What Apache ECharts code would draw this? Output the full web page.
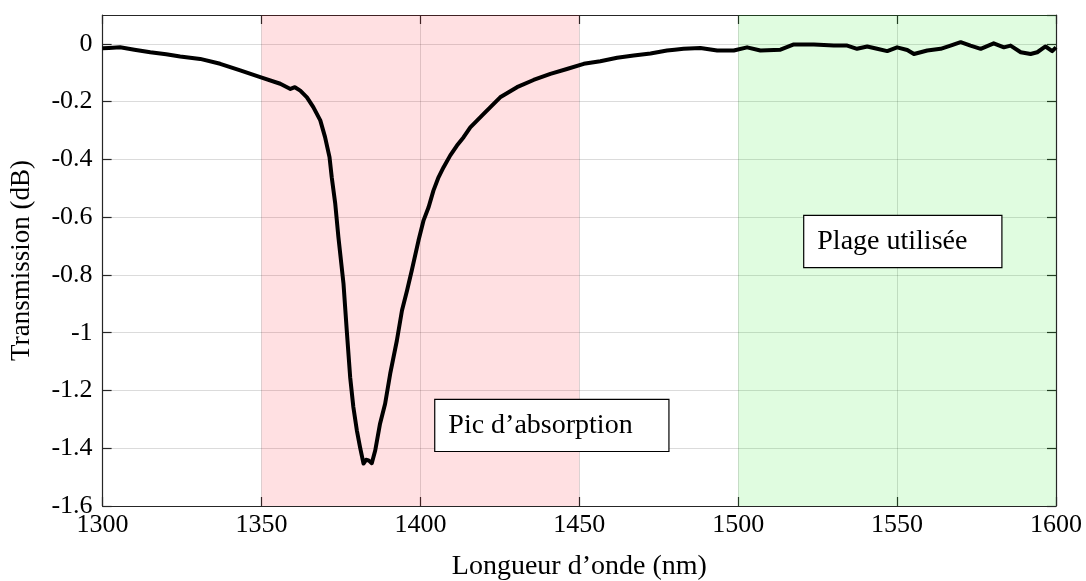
<!DOCTYPE html>
<html>
<head>
<meta charset="utf-8">
<script src="https://cdn.jsdelivr.net/npm/echarts@6/dist/echarts.min.js"></script>
<style>
  html, body { margin: 0; padding: 0; background: #fff; }
  #chart { width: 1086px; height: 581px; }
</style>
</head>
<body>
<div id="chart"></div>
<script>
// Wavelength (nm) and measured transmission (dB)
const wavelength = [
  1300, 1302, 1305.5, 1310, 1315, 1320, 1324.4, 1330.7, 1337, 1343.3,
  1349.6, 1355.9, 1359.1, 1360.5, 1362.2, 1364.3, 1366.3, 1368.5, 1370, 1371.4,
  1372.1, 1373.2, 1374.2, 1375.8, 1376.9, 1377.9, 1378.9, 1380, 1381, 1382.1,
  1382.9, 1383.7, 1384.7, 1385.8, 1387.3, 1388.9, 1390.5, 1392.6, 1394.2, 1395.8,
  1397.3, 1399.4, 1401, 1402.6, 1404.1, 1405.7, 1407.3, 1409.4, 1411.5, 1413.6,
  1415.7, 1419.9, 1425.1, 1430.4, 1435.6, 1440.9, 1446.1, 1451.4, 1456.6, 1461.9,
  1467.1, 1472.4, 1477.6, 1480, 1482.8, 1488.1, 1493.4, 1498.6, 1502.8, 1507,
  1513.3, 1517.5, 1523.8, 1530.1, 1534.3, 1537.4, 1540.6, 1543.7, 1546.9, 1550,
  1553.2, 1555.3, 1559.5, 1563.7, 1566.8, 1570, 1573.1, 1576.3, 1580.4, 1583.6,
  1585.7, 1588.9, 1592, 1594.1, 1596.7, 1598.8, 1600
];
const transmission = [
  -0.015, -0.014, -0.012, -0.02, -0.029, -0.036, -0.044, -0.052, -0.069, -0.092,
  -0.115, -0.138, -0.156, -0.15, -0.162, -0.185, -0.219, -0.265, -0.323, -0.392,
  -0.462, -0.553, -0.669, -0.83, -1.003, -1.154, -1.257, -1.338, -1.396, -1.453,
  -1.44, -1.442, -1.452, -1.407, -1.315, -1.246, -1.142, -1.027, -0.923, -0.854,
  -0.784, -0.681, -0.611, -0.565, -0.508, -0.462, -0.427, -0.386, -0.352, -0.323,
  -0.289, -0.242, -0.185, -0.15, -0.125, -0.104, -0.087, -0.069, -0.06, -0.048,
  -0.04, -0.033, -0.023, -0.02, -0.017, -0.014, -0.023, -0.023, -0.012, -0.023,
  -0.02, -0.002, -0.002, -0.006, -0.006, -0.017, -0.009, -0.017, -0.025, -0.012,
  -0.021, -0.035, -0.023, -0.017, -0.006, 0.006, -0.006, -0.017, 0.002, -0.012,
  -0.006, -0.029, -0.035, -0.029, -0.009, -0.025, -0.012
];

// Shaded bands: absorption peak and the band in use
const peakBand = [1350, 1450];
const usedBand = [1500, 1600];

// Annotation boxes, anchored at their left edge: [wavelength, transmission, text]
const notes = [
  [1404.7, -1.321, 'Pic d\u2019absorption'],
  [1520.8, -0.684, 'Plage utilis\u00e9e']
];
// Inner widths of the annotation boxes (px)
const noteWidths = [220, 184];

const FONT = '"Liberation Serif", "DejaVu Serif", serif';
const AX = '#262626';
const GRID = 'rgba(0,0,0,0.14)';

const chart = echarts.init(document.getElementById('chart'), null, { renderer: 'canvas' });

const plain = v => String(Math.round(v * 1000) / 1000);

const xBase = {
  type: 'value', min: 1300, max: 1600, interval: 50,
  axisLine: { show: true, onZero: false, lineStyle: { color: AX, width: 1.2 } },
  axisTick: { show: true, inside: true, length: 9, lineStyle: { color: AX, width: 1.2 } }
};
const yBase = {
  type: 'value', min: -1.6, max: 0.1, interval: 0.2,
  axisLine: { show: true, onZero: false, lineStyle: { color: AX, width: 1.2 } },
  axisTick: { show: true, inside: true, length: 9, lineStyle: { color: AX, width: 1.2 } }
};

chart.setOption({
  animation: false,
  backgroundColor: '#fff',
  grid: { left: 102.6, right: 30, top: 15, bottom: 75, containLabel: false, outerBoundsMode: 'none' },
  xAxis: [
    Object.assign({}, xBase, {
      position: 'bottom',
      name: 'Longueur d\u2019onde (nm)', nameLocation: 'middle', nameGap: 47,
      nameTextStyle: { fontFamily: FONT, fontSize: 28, color: '#000' },
      axisLabel: { fontFamily: FONT, fontSize: 26, color: '#000', margin: 6, formatter: plain },
      splitLine: { show: true, lineStyle: { color: GRID, width: 1 } }
    }),
    Object.assign({}, xBase, {
      position: 'top', axisLabel: { show: false }, splitLine: { show: false }
    })
  ],
  yAxis: [
    Object.assign({}, yBase, {
      position: 'left',
      name: 'Transmission (dB)', nameLocation: 'middle', nameGap: 67, nameRotate: 90,
      nameTextStyle: { fontFamily: FONT, fontSize: 27, color: '#000' },
      axisLabel: { fontFamily: FONT, fontSize: 26, color: '#000', margin: 10, showMaxLabel: false, formatter: plain },
      splitLine: { show: true, lineStyle: { color: GRID, width: 1 } }
    }),
    Object.assign({}, yBase, {
      position: 'right', axisLabel: { show: false }, splitLine: { show: false }
    })
  ],
  series: [
    {
      type: 'line',
      xAxisIndex: 0, yAxisIndex: 0,
      data: wavelength.map((w, i) => [w, transmission[i]]),
      symbol: 'none',
      smooth: false,
      lineStyle: { color: '#000', width: 4, join: 'round' },
      z: 5,
      markArea: {
        silent: true,
        data: [
          [{ xAxis: peakBand[0], itemStyle: { color: 'rgba(255,0,20,0.12)' } }, { xAxis: peakBand[1] }],
          [{ xAxis: usedBand[0], itemStyle: { color: 'rgba(0,230,0,0.12)' } }, { xAxis: usedBand[1] }]
        ]
      }
    },
    {
      type: 'scatter',
      xAxisIndex: 0, yAxisIndex: 0,
      symbolSize: 0,
      itemStyle: { opacity: 1 },
      z: 10,
      data: notes.map((n, i) => ({
        value: [n[0], n[1]], name: n[2],
        label: { width: noteWidths[i] }
      })),
      label: {
        show: true,
        position: 'inside',
        formatter: p => p.name,
        fontFamily: FONT, fontSize: 28, color: '#000',
        align: 'left', verticalAlign: 'middle',
        height: 51, lineHeight: 51,
        backgroundColor: '#fff',
        borderColor: '#000', borderWidth: 1.2,
        padding: [0, 0, 0, 13]
      }
    }
  ]
});
</script>
</body>
</html>
